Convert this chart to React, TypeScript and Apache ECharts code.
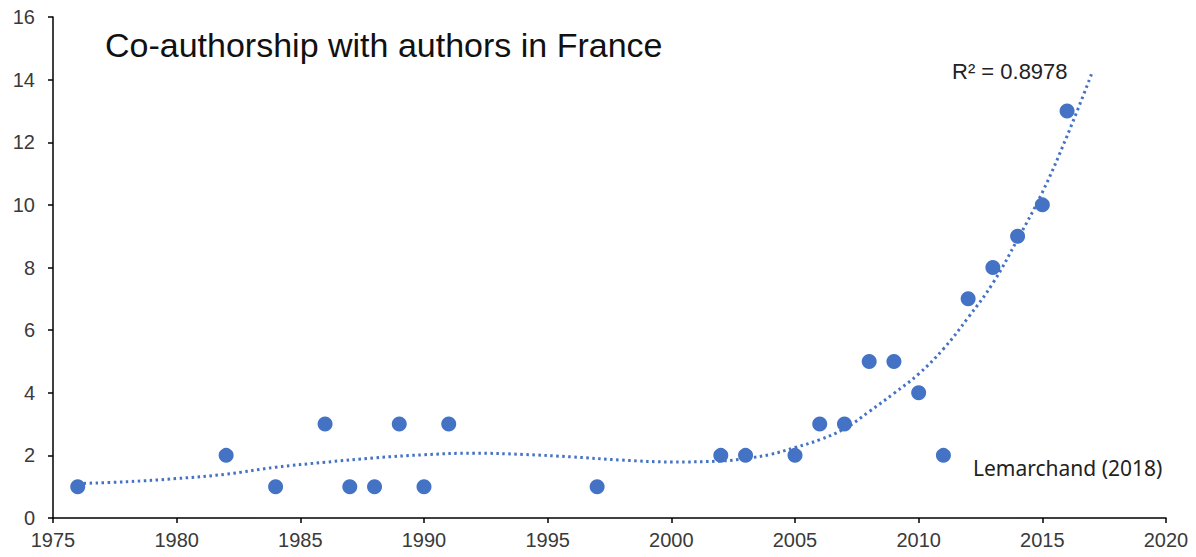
import React, { useEffect, useRef } from "react";
import * as echarts from "echarts";

const years = [1976, 1982, 1984, 1986, 1987, 1988, 1989, 1990, 1991, 1997, 2002, 2003, 2005, 2006, 2007, 2008, 2009, 2010, 2011, 2012, 2013, 2014, 2015, 2016];
const counts = [1, 2, 1, 3, 1, 1, 3, 1, 3, 1, 2, 2, 2, 3, 3, 5, 5, 4, 2, 7, 8, 9, 10, 13];

// Polynomial trendline
const trendYears = [1976, 1978, 1980, 1982, 1984, 1986, 1988, 1990, 1992, 1994, 1996, 1998, 2000, 2002, 2003, 2004, 2005, 2006, 2007, 2008, 2009, 2010, 2011, 2012, 2013, 2014, 2015, 2016, 2017];
const trendValues = [1.1, 1.16, 1.26, 1.4, 1.62, 1.78, 1.92, 2.02, 2.07, 2.03, 1.95, 1.85, 1.79, 1.82, 1.9, 2.03, 2.25, 2.5, 2.85, 3.4, 3.98, 4.6, 5.4, 6.4, 7.5, 8.9, 10.4, 12.2, 14.2];

const xTicks = { min: 1975, max: 2020, interval: 5 };
const yTicks = { min: 0, max: 16, interval: 2 };

const titleText = "Co-authorship with authors in France";
const r2Text = "R² = 0.8978";
const sourceText = "Lemarchand (2018)";

const BLUE = "#4472C4";

export default function App() {
  const ref = useRef<HTMLDivElement>(null);
  useEffect(() => {
    document.body.style.margin = "0";
    if (!ref.current) return;
    const chart = echarts.init(ref.current, undefined, { renderer: "svg" });
    const axisCommon = {
      splitLine: { show: false },
      axisLine: { show: true, lineStyle: { color: "#000", width: 1.5 } },
      axisTick: { show: true, inside: false, length: 5, lineStyle: { color: "#000", width: 1.5 } },
      axisLabel: { fontSize: 20, color: "#3a3a3a", fontFamily: "Liberation Sans, Arial, sans-serif" },
    };
    chart.setOption({
      animation: false,
      backgroundColor: "#fff",
      grid: { left: 53, right: 30, top: 17, bottom: 39, containLabel: false },
      xAxis: {
        type: "value",
        ...xTicks,
        ...axisCommon,
        axisLabel: { ...axisCommon.axisLabel, margin: 12, formatter: (v: number) => String(v) },
      },
      yAxis: {
        type: "value",
        ...yTicks,
        ...axisCommon,
        axisLabel: { ...axisCommon.axisLabel, margin: 18 },
      },
      series: [
        {
          type: "line",
          data: trendYears.map((y, i) => [y, trendValues[i]]),
          smooth: 0.4,
          showSymbol: false,
          symbol: "none",
          lineStyle: { color: BLUE, width: 3, type: [2.5, 3.5] },
          z: 2,
        },
        {
          type: "scatter",
          data: years.map((y, i) => [y, counts[i]]),
          symbolSize: 15,
          itemStyle: { color: BLUE, opacity: 1 },
          z: 3,
        },
      ],
      graphic: [
        {
          type: "text",
          left: 105,
          top: 28,
          style: { text: titleText, fontSize: 34, fill: "#111", fontFamily: "Liberation Sans, Arial, sans-serif" },
        },
        {
          type: "text",
          left: 952,
          top: 60,
          style: { text: r2Text, fontSize: 22, fill: "#222", fontFamily: "Liberation Sans, Arial, sans-serif" },
        },
        {
          type: "text",
          left: 973,
          top: 457,
          style: { text: sourceText, fontSize: 21, fill: "#222", fontFamily: "Noto Sans, sans-serif" },
        },
      ],
    });
    return () => chart.dispose();
  }, []);
  return <div ref={ref} style={{ width: 1196, height: 557 }} />;
}
